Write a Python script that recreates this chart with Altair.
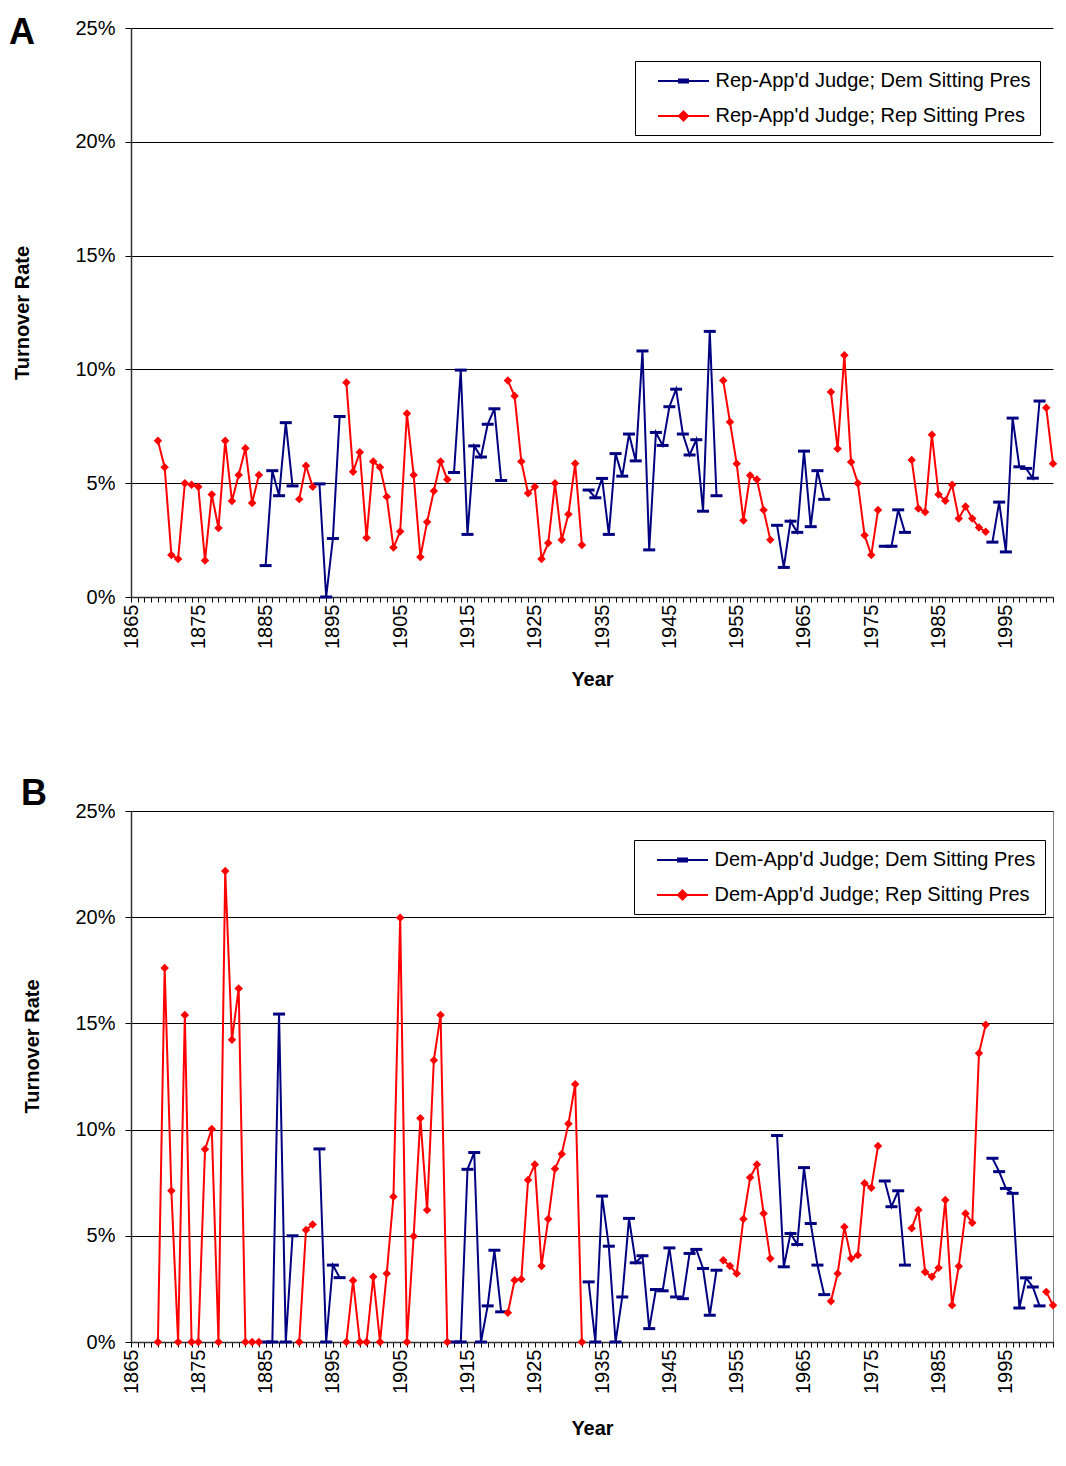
import altair as alt
import pandas as pd

YEARS = list(range(1869, 2003))
TICK_YEARS = list(range(1865, 2003))
DEM_PRES_TERMS = [[1885, 1889], [1893, 1896], [1913, 1920], [1933, 1952],
                  [1961, 1968], [1977, 1980], [1993, 2000]]

# Panel A: Republican-appointed judges (turnover rate, %)
REP_JUDGE_RATE = [
    6.86, 5.70, 1.85, 1.67, 5.00, 4.93, 4.84, 1.60, 4.50, 3.03,
    6.86, 4.22, 5.36, 6.54, 4.13, 5.36, 1.38, 5.55, 4.45, 7.66,
    4.88, 4.30, 5.77, 4.84, 4.97, 0.00, 2.57, 7.93, 9.42, 5.50,
    6.36, 2.60, 5.95, 5.70, 4.41, 2.17, 2.88, 8.06, 5.36, 1.76,
    3.30, 4.66, 5.95, 5.16, 5.47, 9.97, 2.75, 6.64, 6.15, 7.59,
    8.27, 5.12, 9.51, 8.83, 5.95, 4.56, 4.84, 1.67, 2.37, 5.00,
    2.51, 3.64, 5.87, 2.28, 4.70, 4.36, 5.21, 2.75, 6.30, 5.31,
    7.16, 5.98, 10.81, 2.07, 7.23, 6.66, 8.36, 9.13, 7.16, 6.24,
    6.91, 3.77, 11.67, 4.45, 9.51, 7.69, 5.86, 3.36, 5.34, 5.16,
    3.82, 2.51, 3.15, 1.30, 3.33, 2.84, 6.41, 3.09, 5.55, 4.29,
    9.01, 6.51, 10.62, 5.93, 5.00, 2.71, 1.85, 3.82, 2.23, 2.23,
    3.83, 2.84, 6.02, 3.89, 3.73, 7.13, 4.50, 4.23, 4.93, 3.45,
    3.98, 3.45, 3.05, 2.87, 2.41, 4.17, 1.98, 7.86, 5.72, 5.65,
    5.22, 8.61, 8.31, 5.86,
]

# Panel B: Democratic-appointed judges (turnover rate, %)
DEM_JUDGE_RATE = [
    0.00, 17.61, 7.12, 0.00, 15.39, 0.00, 0.00, 9.07, 10.03, 0.00,
    22.17, 14.23, 16.64, 0.00, 0.00, 0.00, 0.00, 0.00, 15.44, 0.00,
    5.00, 0.00, 5.27, 5.53, 9.09, 0.00, 3.62, 3.03, 0.00, 2.89,
    0.00, 0.00, 3.07, 0.00, 3.22, 6.84, 19.97, 0.00, 4.98, 10.53,
    6.21, 13.27, 15.39, 0.00, 0.00, 0.00, 8.13, 8.92, 0.00, 1.70,
    4.32, 1.42, 1.38, 2.91, 2.96, 7.63, 8.36, 3.58, 5.79, 8.16,
    8.85, 10.27, 12.14, 0.00, 2.83, 0.00, 6.87, 4.51, 0.00, 2.12,
    5.82, 3.73, 4.06, 0.63, 2.47, 2.41, 4.43, 2.12, 2.04, 4.17,
    4.36, 3.46, 1.26, 3.38, 3.85, 3.58, 3.22, 5.79, 7.74, 8.36,
    6.05, 3.93, 9.72, 3.54, 5.11, 4.59, 8.21, 5.58, 3.62, 2.23,
    1.92, 3.22, 5.42, 3.93, 4.09, 7.47, 7.26, 9.23, 7.58, 6.37,
    7.12, 3.62, 5.35, 6.21, 3.30, 3.07, 3.49, 6.68, 1.73, 3.57,
    6.05, 5.61, 13.60, 14.94, 8.65, 8.02, 7.23, 7.00, 1.60, 3.02,
    2.59, 1.70, 2.36, 1.73,
]

A_LABELS = ["Rep-App'd Judge; Dem Sitting Pres", "Rep-App'd Judge; Rep Sitting Pres"]
B_LABELS = ["Dem-App'd Judge; Dem Sitting Pres", "Dem-App'd Judge; Rep Sitting Pres"]
COLORS = ["#000080", "#FF0000"]
Y_TICKS = [0, 5, 10, 15, 20, 25]

FONT = "Liberation Sans"
DASH = "M-1,-0.25H1V0.25H-1Z"
LEG_DASH = "M-2.55,0H2.55M-0.45,-0.15H0.45V0.15H-0.45Z"
LEG_DIAMOND = "M-2.55,0H2.55M0,-0.45L0.45,0L0,0.45L-0.45,0Z"


def build(rates, labels):
    rows, seg, prev = [], 0, None
    for yr, v in zip(YEARS, rates):
        dem = any(a <= yr <= b for a, b in DEM_PRES_TERMS)
        party = "Dem" if dem else "Rep"
        if prev is not None and party != prev:
            seg += 1
        prev = party
        rows.append({"year": yr, "rate": v, "party": party,
                     "series": labels[0] if dem else labels[1], "seg": seg})
    return pd.DataFrame(rows)


def panel(df, labels, letter, width, height, legend_x, legend_y,
          ytitle_pad, xtitle_pad, title_dx, title_offset, view_stroke, ytitle_y=None):
    x = alt.X("year:Q",
              scale=alt.Scale(domain=[1865, 2002], nice=False, zero=False),
              axis=alt.Axis(title="Year", values=TICK_YEARS,
                            labelExpr="datum.value % 10 == 5 ? '' + datum.value : ''",
                            labelAngle=270, labelOverlap=False, labelFlush=False,
                            labelPadding=2, tickSize=5, grid=False,
                            titlePadding=xtitle_pad))
    yaxis = dict(title="Turnover Rate", values=Y_TICKS,
                 labelExpr="datum.value + '%'", grid=True,
                 tickSize=6, labelPadding=10, titlePadding=ytitle_pad)
    if ytitle_y is not None:
        yaxis["titleY"] = ytitle_y
    y = alt.Y("rate:Q", scale=alt.Scale(domain=[0, 25], nice=False),
              axis=alt.Axis(**yaxis))

    legend = alt.Legend(
        title=None, orient="none", legendX=legend_x, legendY=legend_y,
        direction="vertical", fillColor="white", strokeColor="black",
        padding=9, labelFont=FONT, labelFontSize=20, labelColor="black",
        labelLimit=500, symbolSize=400, symbolOpacity=1,
        symbolStrokeWidth=2, symbolOffset=28.5, labelOffset=21, rowPadding=14,
    )

    base = alt.Chart(df)
    lines = []
    for party, col in (("Dem", COLORS[0]), ("Rep", COLORS[1])):
        lines.append(base.transform_filter(alt.datum.party == party).mark_line(
            strokeWidth=2, color=col).encode(x=x, y=y, detail="seg:N"))
    dem_pts = base.transform_filter(alt.datum.party == "Dem").mark_point(
        shape=DASH, size=144, filled=True, color=COLORS[0], opacity=1, strokeWidth=0
    ).encode(x=x, y=y)
    rep_pts = base.transform_filter(alt.datum.party == "Rep").mark_point(
        shape="diamond", size=72, filled=True, color=COLORS[1], opacity=1, strokeWidth=0
    ).encode(x=x, y=y)
    # invisible layer carrying the legend (line + marker symbols)
    key = base.mark_point(opacity=0, size=4).encode(
        x=x, y=y,
        fill=alt.Fill("series:N", scale=alt.Scale(domain=labels, range=COLORS), legend=legend),
        stroke=alt.Stroke("series:N", scale=alt.Scale(domain=labels, range=COLORS), legend=legend),
        shape=alt.Shape("series:N", scale=alt.Scale(domain=labels, range=[LEG_DASH, LEG_DIAMOND]),
                        legend=legend),
    )

    return alt.layer(*lines, dem_pts, rep_pts, key).properties(
        width=width, height=height,
        view=alt.ViewBackground(stroke=view_stroke, strokeWidth=1),
        title=alt.TitleParams(letter, anchor="start", frame="bounds", fontSize=36,
                              fontWeight="bold", font=FONT, color="black",
                              dx=title_dx, offset=title_offset),
    )


dfa = build(REP_JUDGE_RATE, A_LABELS)
dfb = build(DEM_JUDGE_RATE, B_LABELS)

top = panel(dfa, A_LABELS, "A", 922, 569, 504, 33, 42, 21.5, -4, -34, "transparent")
bottom = panel(dfb, B_LABELS, "B", 922, 531, 503, 29, 32, 25, -2, -12, "#808080",
               ytitle_y=235)

chart = alt.vconcat(
    top, bottom, spacing=84,
    padding={"top": 6, "left": 0, "right": -6, "bottom": 1},
).resolve_scale(
    fill="independent", stroke="independent", shape="independent"
).configure_axis(
    labelFont=FONT, labelFontSize=20, labelColor="black",
    titleFont=FONT, titleFontSize=20, titleFontWeight="bold", titleColor="black",
    gridColor="black", gridWidth=1, tickColor="black",
    domainColor="#333333", domainWidth=1.5,
)

chart.save("out.html", embed_options={"renderer": "svg", "actions": False})
